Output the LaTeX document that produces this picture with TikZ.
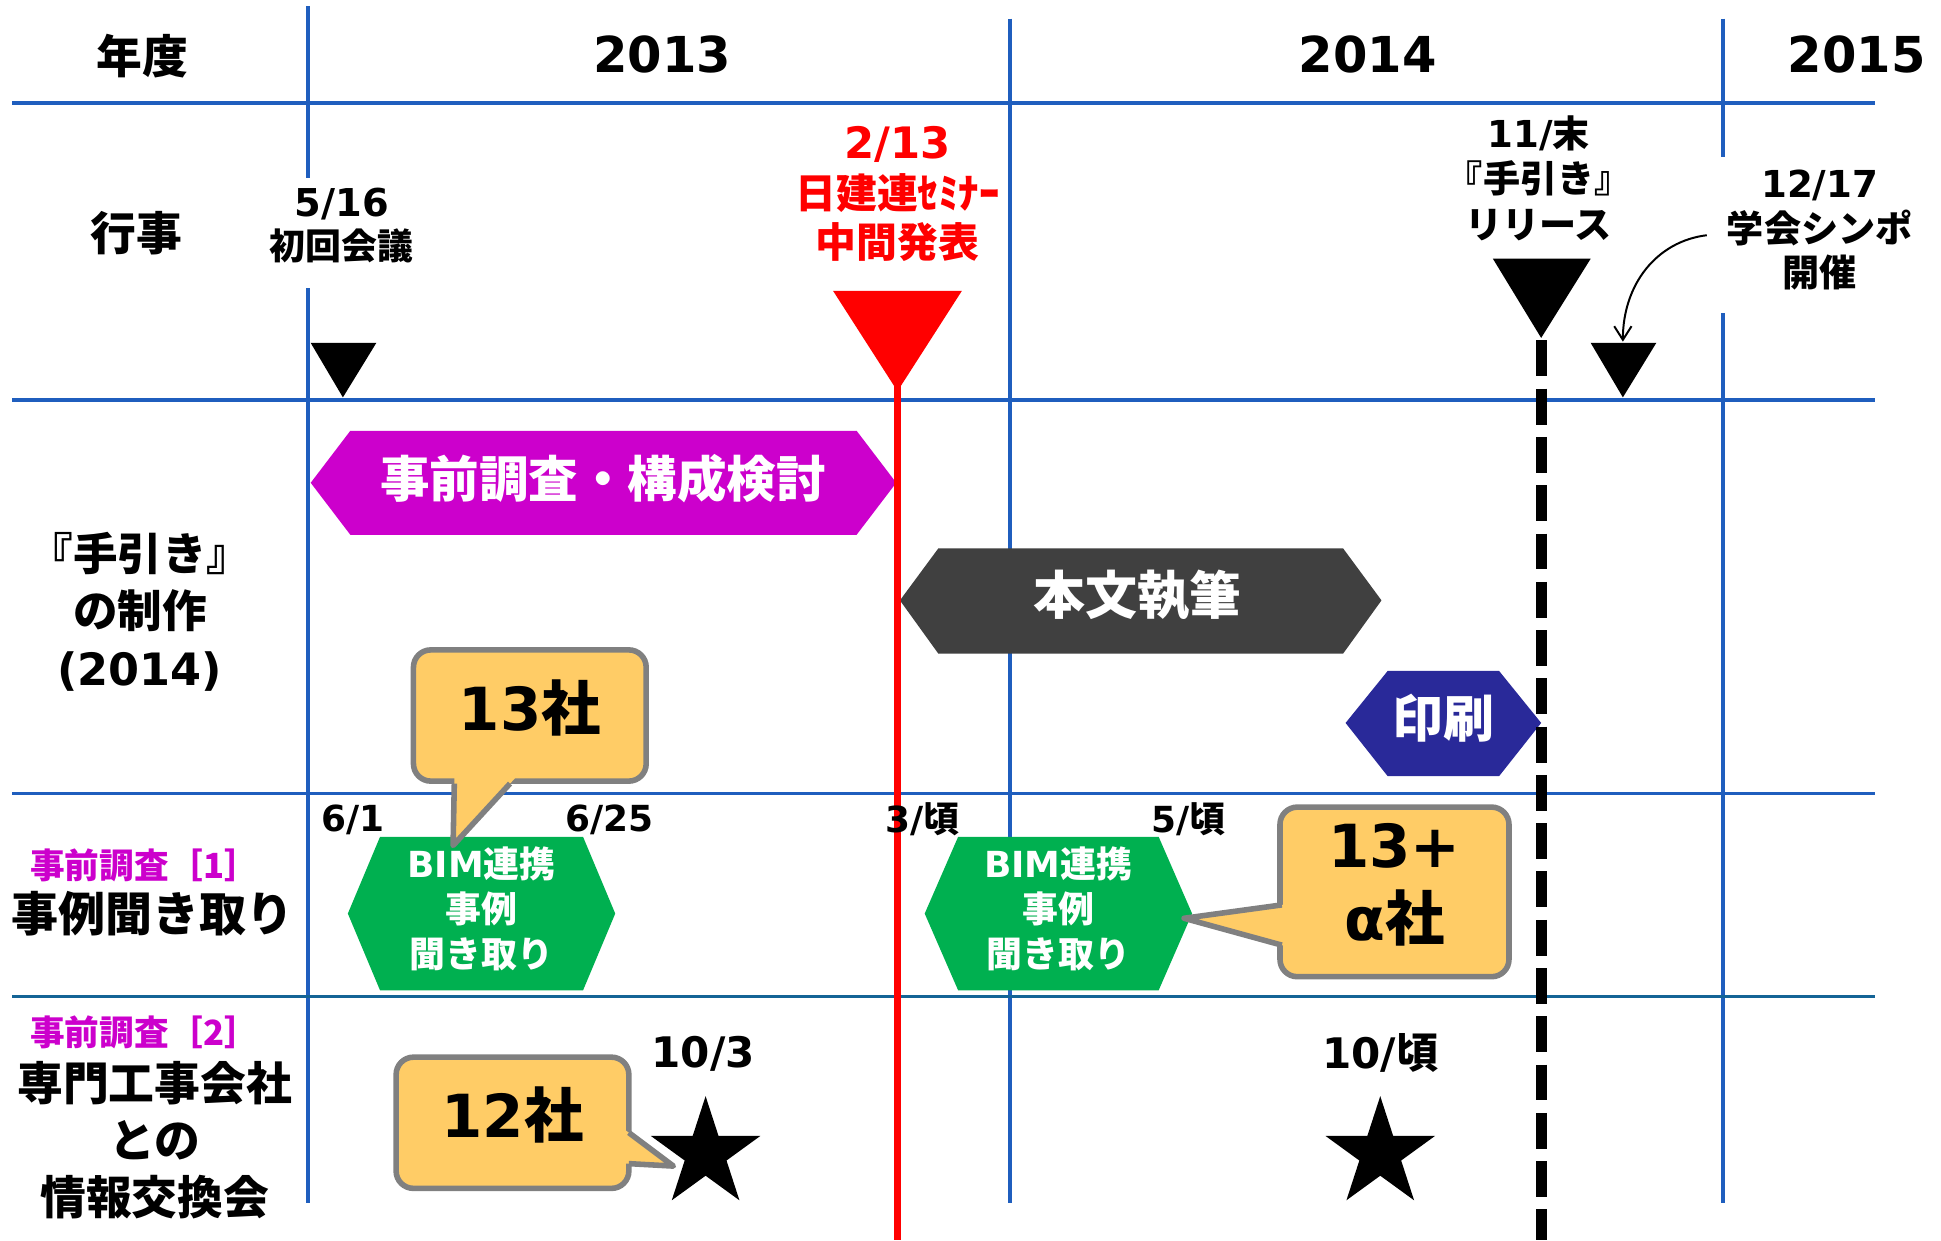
\documentclass[tikz,border=0pt]{standalone}
\usepackage{fontspec}
\setmainfont{Noto Sans CJK JP}
\newfontfamily\lat{DejaVu Sans}
\usepackage{tikz}
\usetikzlibrary{arrows.meta}
\usetikzlibrary{shapes.geometric}
\definecolor{gridblue}{RGB}{31,94,190}
\definecolor{griddark}{RGB}{20,100,150}
\definecolor{hexmag}{RGB}{204,0,204}
\definecolor{hexgray}{RGB}{64,64,64}
\definecolor{hexblue}{RGB}{41,41,153}
\definecolor{hexgreen}{RGB}{0,176,80}
\definecolor{callyellow}{RGB}{255,204,102}
\definecolor{callgray}{RGB}{128,128,128}
\newcommand\fs[2]{\fontsize{#1}{#2}\selectfont\bfseries}
\newcommand\up[1]{\raisebox{6pt}[\height][\depth]{#1}}
\tikzset{
  gridline/.style = {gridblue, line width=3pt},
  head/.style = {align=center, inner sep=0pt, font=\fs{37}{46}},% row heads
  year/.style = {inner sep=0pt, font=\lat\fs{40}{48}},
  evlab/.style = {align=center, inner sep=0pt, font=\fs{29}{35}},
  datelab/.style = {inner sep=0pt, font=\fs{29}{34}},
  hexlab/.style = {align=center, inner sep=0pt, white, font=\fs{40}{48}},
  callbox/.style = {align=center, inner sep=0pt, fill=callyellow,
    draw=callgray, line width=4.5pt, rounded corners=14pt,
    font=\fs{48}{59}},
  callptr/.style = {callgray, line width=4.5pt, line join=round},
  starmark/.style = {star, star points=5, star point ratio=2.618, fill=black,
    minimum size=93pt, inner sep=0pt}
}

\begin{document}
\begin{tikzpicture}[x=1pt,y=-1pt]
\useasboundingbox (0,0) rectangle (1568,1002);
\fill[white] (0,0) rectangle (1568,1002);
% grid
\draw[gridline] (249,5) -- (249,144) (249,233) -- (249,972);
\draw[gridline] (816,15) -- (816,972);
\draw[gridline] (1392,15) -- (1392,127) (1392,253) -- (1392,972);
\foreach \y in {83,323,641}
  \draw[gridline] (10,\y) -- (1515,\y);
\draw[gridline, griddark] (10,805) -- (1515,805);

% bars
\fill[hexmag] (251,390) -- (283,348) -- (692,348) -- (724,390) -- (692,432) -- (283,432) -- cycle;
\fill[hexgray] (727,485) -- (758,443) -- (1085,443) -- (1116,485) -- (1085,528) -- (758,528) -- cycle;
\fill[hexblue] (1087,584) -- (1121,542) -- (1211,542) -- (1245,584) -- (1211,627) -- (1121,627) -- cycle;
\fill[hexgreen] (281,738) -- (307,676) -- (471,676) -- (497,738) -- (471,800) -- (307,800) -- cycle;
\fill[hexgreen] (747,738) -- (774,676) -- (936,676) -- (963,738) -- (936,800) -- (774,800) -- cycle;
\node[hexlab] (prep) at (487,387) {事前調査・構成検討};
\node[hexlab, font=\fs{42}{48}] (write) at (919,481) {本文執筆};
\node[hexlab, font=\fs{41}{48}] (print) at (1166,580) {印刷};
\node[hexlab, font=\fs{29}{36.5}] (bim1) at (389,734) {{\lat BIM}連携\\事例\\聞き取り};
\node[hexlab, font=\fs{29}{36.5}] (bim2) at (855,734) {{\lat BIM}連携\\事例\\聞き取り};

% milestones
\fill[red] (673,235) -- (777,235) -- (725,316) -- cycle;
\draw[red, line width=6pt] (725,310) -- (725,1002);
\fill[black] (1206,209) -- (1285,209) -- (1245,273) -- cycle;
\draw[black, line width=9pt, dash pattern=on 29pt off 10pt] (1245,275) -- (1245,1002);
\fill[black] (251,277) -- (304,277) -- (277,321) -- cycle;
\fill[black] (1285,277) -- (1338,277) -- (1311,321) -- cycle;
\coordinate (sympmark) at (1311,276);

% callouts
\node[callbox, minimum width=188pt, minimum height=106pt] (c13) at (428,578) {\up{{\lat 13}社}};
\fill[callyellow] (367.3,620) -- (366,683) -- (424,620) -- cycle;
\draw[callptr] (367,633) -- (366,683) -- (412,633);
\node[callbox, minimum width=188pt, minimum height=106pt] (c12) at (414,907) {\up{{\lat 12}社}};
\fill[callyellow] (495,905.3) -- (544,942) -- (495,939.3) -- cycle;
\draw[callptr] (508,915) -- (544,942) -- (508,940);
\node[callbox, minimum width=185pt, minimum height=137pt] (c13a) at (1126.5,720.5) {\up{\lat 13+}\\\up{{\lat α}社}};
\fill[callyellow] (1048.5,729.2) -- (956.5,741.8) -- (1048.5,767.1) -- cycle;
\draw[callptr] (1035.5,731) -- (956.5,741.8) -- (1035.5,763.5);

\node[starmark] (star1) at (570,932) {};
\node[starmark] (star2) at (1115,932) {};

% labels
\node[head] (ydeg) at (115,45) {年度};
\node[year] (y13) at (535,44) {2013};
\node[year] (y14) at (1105,44) {2014};
\node[year] (y15) at (1500,44) {2015};
\node[head] (evt) at (110,188) {行事};
\node[evlab] (kickoff) at (276,182) {{\lat\fs{31}{35}5/16}\\初回会議};
\node[evlab, red, font=\fs{33}{40}] (semi) at (725,157) {{\lat\fs{35}{40}2/13}\\日建連ｾﾐﾅｰ\\中間発表};
\node[evlab, font=\fs{30}{37}] (rel) at (1243,144) {{\lat 11/}末\\『手引き』\\リリース};
\node[evlab, font=\fs{30}{36}] (symp) at (1470,186) {{\lat 12/17}\\学会シンポ\\開催};
\draw[-{Straight Barb[length=11pt,width=14pt]}, line width=1.6pt]
  ([xshift=-16pt,yshift=-4pt]symp.west) .. controls (1338,195) and (1311,230) .. (sympmark);

\node[head, font=\fs{36}{46.5}] (tebiki) at (113,494) {『手引き』\\の制作\\{\lat (2014)}};
\node[head, hexmag, font=\fs{28}{34}] (pre1) at (117,699) {事前調査［1］};
\node[head, font=\fs{38}{46}] (case) at (123,738) {事例聞き取り};
\node[head, hexmag, font=\fs{28}{34}] (pre2) at (117,834) {事前調査［2］};
\node[head, font=\fs{37}{46}] (trade) at (125,921) {専門工事会社\\との\\情報交換会};

\node[datelab] (d61) at (285,662) {\lat 6/1};
\node[datelab] (d625) at (492,662) {\lat 6/25};
\node[datelab] (m3) at (745,662) {{\lat 3/}頃};
\node[datelab] (m5) at (960,662) {{\lat 5/}頃};
\node[datelab, font=\fs{34}{38}] (d103) at (568,851) {\lat 10/3};
\node[datelab, font=\fs{34}{38}] (m10) at (1115,851) {{\lat 10/}頃};
\end{tikzpicture}
\end{document}
